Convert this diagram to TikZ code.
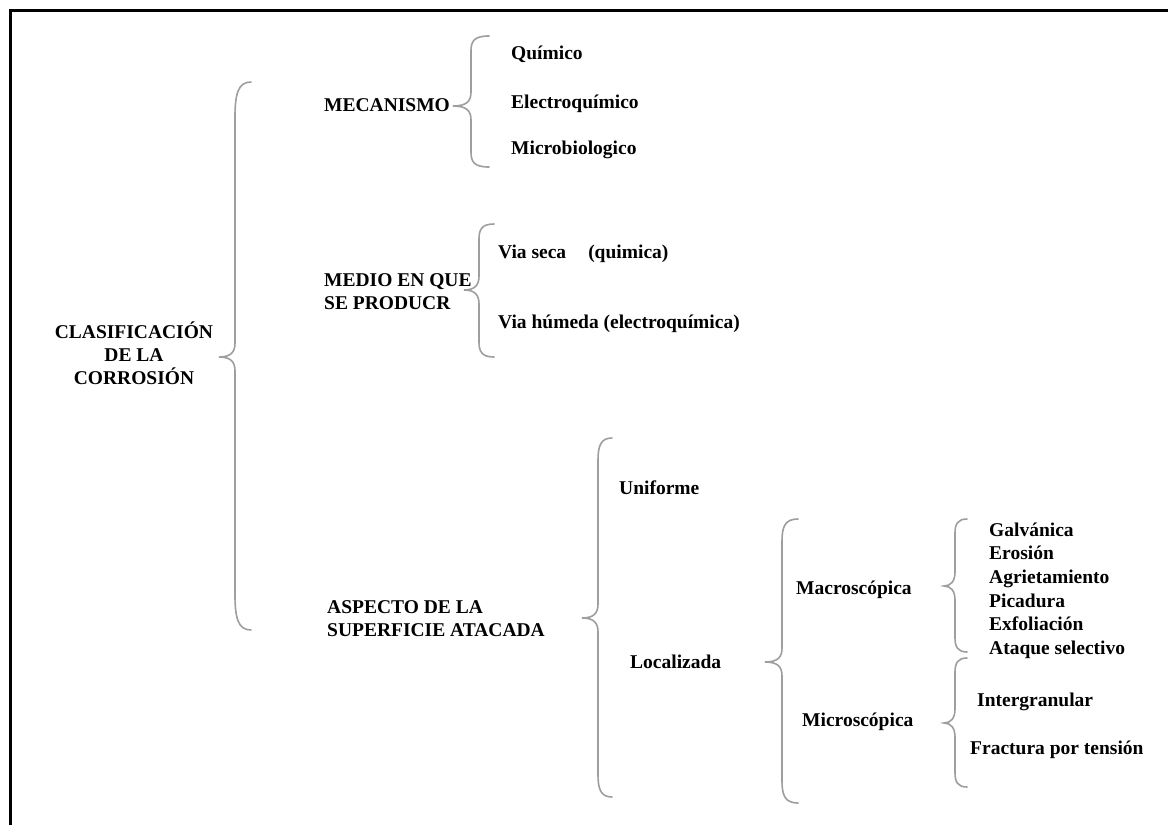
\documentclass[tikz,border=0pt]{standalone}
\usepackage{fontspec}
\setmainfont{Liberation Serif}[BoldFont={Liberation Serif Bold}]
\newfontfamily\diagfont{Liberation Serif Bold}
\tikzset{
  lbl/.style={inner sep=0pt, anchor=base west, font=\diagfont\fontsize{19.5}{23}\selectfont},
  mlbl/.style={inner sep=0pt, font=\diagfont\fontsize{19.5}{23}\selectfont},
  brc/.style={draw=black!38, line width=1.6pt, line cap=round},
  frame/.style={line width=3pt, draw=black}
}
% #1 xv, #2 xtip, #3 xend, #4 ytop, #5 ytip, #6 ybot, #7 curl
\newcommand{\cbrace}[7]{%
  \draw[brc] (#3,#4) .. controls (#1+3,#4) and (#1,#4+#7*0.35) .. (#1,#4+#7)
    -- (#1,#5-14) .. controls (#1,#5-5) and (#1-4,#5) .. (#2,#5)
    .. controls (#1-4,#5) and (#1,#5+5) .. (#1,#5+14)
    -- (#1,#6-#7) .. controls (#1,#6-#7*0.35) and (#1+3,#6) .. (#3,#6);}
\begin{document}
\begin{tikzpicture}[x=1pt,y=-1pt]
\useasboundingbox (0,0) rectangle (1168,825);
\fill[white] (0,0) rectangle (1168,825);
\draw[frame] (10,825) -- (10,10) -- (1168,10);

% braces
\cbrace{235}{219}{251}{82}{357}{630}{35}
\cbrace{471}{453}{489}{36}{106}{167}{15}
\cbrace{479}{464}{494}{224}{290}{357}{15}
\cbrace{598}{582}{612}{438}{618}{797}{22}
\cbrace{782}{765}{798}{519}{662}{803}{22}
\cbrace{955}{944}{967}{519}{586}{652}{14}
\cbrace{955}{944}{967}{658}{723}{787}{14}

% root
\node[mlbl, align=center, anchor=center] (root) at (134,353) {CLASIFICACIÓN\\DE LA\\CORROSIÓN};

% mecanismo
\node[lbl] (mec) at (324,111.5) {MECANISMO};
\node[lbl] (qui) at (511,59.5) {Químico};
\node[lbl] (ele) at (511,108.5) {Electroquímico};
\node[lbl] (mic) at (511,154.5) {Microbiologico};

% medio
\node[mlbl, align=left, anchor=west] (medio) at (324,291.5) {MEDIO EN QUE\\SE PRODUCR};
\node[lbl] (seca) at (498,258.5) {Via seca\hspace{22pt}(quimica)};
\node[lbl] (hum) at (498,328.5) {Via húmeda (electroquímica)};

% aspecto
\node[mlbl, align=left, anchor=west] (asp) at (327,618.5) {ASPECTO DE LA\\SUPERFICIE ATACADA};
\node[lbl] (uni) at (619,494.5) {Uniforme};
\node[lbl] (loc) at (630,668.5) {Localizada};
\node[lbl] (macro) at (796,594.5) {Macroscópica};
\node[lbl] (micro) at (802,726.5) {Microscópica};

\node[lbl] (gal) at (989,536.5) {Galvánica};
\node[lbl] (ero) at (989,559.5) {Erosión};
\node[lbl] (agr) at (989,583.5) {Agrietamiento};
\node[lbl] (pic) at (989,607.5) {Picadura};
\node[lbl] (exf) at (989,630.5) {Exfoliación};
\node[lbl] (ata) at (989,654.5) {Ataque selectivo};

\node[lbl] (int) at (977,706.5) {Intergranular};
\node[lbl] (fra) at (970,754.5) {Fractura por tensión};
\end{tikzpicture}
\end{document}
